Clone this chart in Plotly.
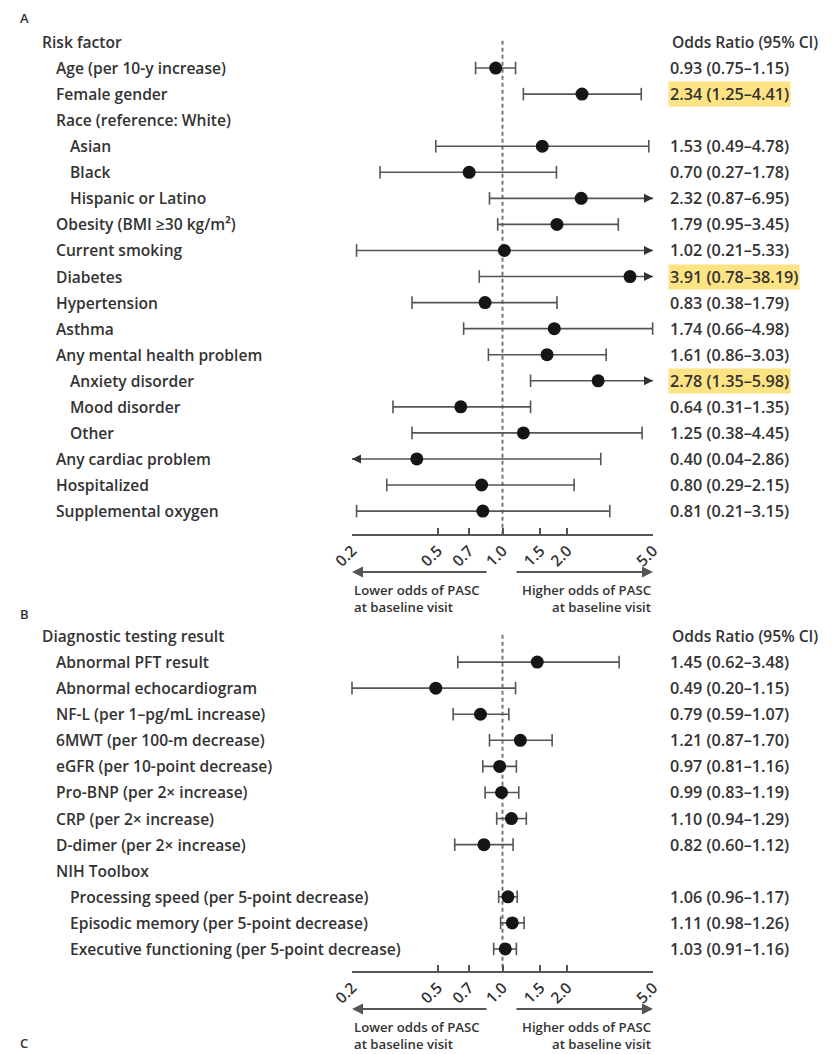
import math
import plotly.graph_objects as go

W, H = 832, 1054

# ---------------- data ----------------
labels_a = ["Risk factor", "Age (per 10-y increase)", "Female gender", "Race (reference: White)",
            "Asian", "Black", "Hispanic or Latino", "Obesity (BMI ≥30 kg/m²)", "Current smoking",
            "Diabetes", "Hypertension", "Asthma", "Any mental health problem", "Anxiety disorder",
            "Mood disorder", "Other", "Any cardiac problem", "Hospitalized", "Supplemental oxygen"]
levels_a = [0, 1, 1, 1, 2, 2, 2, 1, 1, 1, 1, 1, 1, 2, 2, 2, 1, 1, 1]
or_a = [None, 0.93, 2.34, None, 1.53, 0.70, 2.32, 1.79, 1.02, 3.91, 0.83, 1.74, 1.61, 2.78, 0.64, 1.25, 0.40, 0.80, 0.81]
lo_a = [None, 0.75, 1.25, None, 0.49, 0.27, 0.87, 0.95, 0.21, 0.78, 0.38, 0.66, 0.86, 1.35, 0.31, 0.38, 0.04, 0.29, 0.21]
hi_a = [None, 1.15, 4.41, None, 4.78, 1.78, 6.95, 3.45, 5.33, 38.19, 1.79, 4.98, 3.03, 5.98, 1.35, 4.45, 2.86, 2.15, 3.15]
hl_a = [False, False, True, False, False, False, False, False, False, True, False, False, False, True, False, False, False, False, False]

labels_b = ["Diagnostic testing result", "Abnormal PFT result", "Abnormal echocardiogram",
            "NF-L (per 1–pg/mL increase)", "6MWT (per 100-m decrease)", "eGFR (per 10-point decrease)",
            "Pro-BNP (per 2× increase)", "CRP (per 2× increase)", "D-dimer (per 2× increase)", "NIH Toolbox",
            "Processing speed (per 5-point decrease)", "Episodic memory (per 5-point decrease)",
            "Executive functioning (per 5-point decrease)"]
levels_b = [0, 1, 1, 1, 1, 1, 1, 1, 1, 1, 2, 2, 2]
or_b = [None, 1.45, 0.49, 0.79, 1.21, 0.97, 0.99, 1.10, 0.82, None, 1.06, 1.11, 1.03]
lo_b = [None, 0.62, 0.20, 0.59, 0.87, 0.81, 0.83, 0.94, 0.60, None, 0.96, 0.98, 0.91]
hi_b = [None, 3.48, 1.15, 1.07, 1.70, 1.16, 1.19, 1.29, 1.12, None, 1.17, 1.26, 1.16]
hl_b = [False] * 13

tick_vals = [0.2, 0.5, 0.7, 1.0, 1.5, 2.0, 5.0]
tick_text = ["0.2", "0.5", "0.7", "1.0", "1.5", "2.0", "5.0"]
XMIN, XMAX = 0.2, 5.0

# ---------------- style ----------------
FONT = "Open Sans"
TXT = "#333333"
LINE = "#555555"
X0P, X1P = 352, 653
indent = {0: 40, 1: 54, 2: 68}

fig = go.Figure()
annotations = []
shapes = []


def ypaper(px):
    return 1 - px / H


def add_panel(labels, levels, ors, los, his, hls, xa, ya, top_px, row0_px, step, axis_px):
    yr_bottom = (axis_px - row0_px) / step
    yr_top = (top_px - row0_px) / step
    lx, ly = [], []
    capx, capy = [], []
    arx, ary, alx, aly = [], [], [], []
    dx, dy = [], []
    for i, v in enumerate(ors):
        if v is None:
            continue
        lo, hi = los[i], his[i]
        lx += [max(lo, XMIN), min(hi, XMAX), None]
        ly += [i, i, None]
        if lo >= XMIN:
            capx.append(lo); capy.append(i)
        else:
            alx.append(XMIN); aly.append(i)
        if hi <= XMAX:
            capx.append(hi); capy.append(i)
        else:
            arx.append(XMAX); ary.append(i)
        dx.append(v); dy.append(i)
    common = dict(xaxis=xa, yaxis=ya, showlegend=False, hoverinfo="skip", cliponaxis=False)
    fig.add_trace(go.Scatter(x=lx, y=ly, mode="lines", line=dict(color=LINE, width=1.6), **common))
    fig.add_trace(go.Scatter(x=capx, y=capy, mode="markers",
                             marker=dict(symbol="line-ns", size=9, line=dict(color=LINE, width=1.6)), **common))
    if arx:
        fig.add_trace(go.Scatter(x=arx, y=ary, mode="markers",
                                 marker=dict(symbol="arrow-right", size=9, color="#333"), **common))
    if alx:
        fig.add_trace(go.Scatter(x=alx, y=aly, mode="markers",
                                 marker=dict(symbol="arrow-left", size=9, color="#333"), **common))
    fig.add_trace(go.Scatter(x=dx, y=dy, mode="markers",
                             marker=dict(symbol="circle", size=13, color="#151515"), **common))

    axname = "xaxis" if xa == "x" else "xaxis" + xa[1:]
    ayname = "yaxis" if ya == "y" else "yaxis" + ya[1:]
    fig.update_layout(**{
        axname: dict(type="log", range=[math.log10(XMIN), math.log10(XMAX)],
                     domain=[X0P / W, X1P / W], anchor=ya, automargin=False,
                     tickvals=tick_vals, ticktext=tick_text, tickangle=-45,
                     ticks="inside", ticklen=6, tickwidth=1.5, tickcolor=LINE,
                     showline=True, linecolor=LINE, linewidth=1.5, showgrid=False, zeroline=False,
                     tickfont=dict(family=FONT, size=15.5, color=TXT, weight=600), fixedrange=True),
        ayname: dict(range=[yr_bottom, yr_top], domain=[ypaper(axis_px), ypaper(top_px)],
                     anchor=xa, visible=False, fixedrange=True, automargin=False),
    })
    shapes.append(dict(type="line", xref=xa, yref=ya, x0=1, x1=1, y0=-0.05, y1=yr_bottom,
                       line=dict(color="#777", width=2, dash="4px,3px"), layer="below"))
    lf = dict(family=FONT, size=15.6, color=TXT, weight=600)
    vf = dict(family=FONT, size=16.2, color=TXT, weight=600)
    for i, lab in enumerate(labels):
        annotations.append(dict(text=lab, xref="paper", x=indent[levels[i]] / W, yref=ya, y=i,
                                xanchor="left", yanchor="middle", showarrow=False, font=lf))
    annotations.append(dict(text="Odds Ratio (95% CI)", xref="paper", x=670 / W, yref=ya, y=0,
                            xanchor="left", yanchor="middle", showarrow=False, font=lf))
    for i, v in enumerate(ors):
        if v is None:
            continue
        t = f"{v:.2f} ({los[i]:.2f}–{his[i]:.2f})"
        a = dict(text=t, xref="paper", x=668 / W, yref=ya, y=i, xanchor="left", yanchor="middle",
                 showarrow=False, font=vf, borderpad=1)
        if hls[i]:
            a["bgcolor"] = "#fde383"
        annotations.append(a)
    arr_y = axis_px + 38
    annotations.append(dict(text="", xref="paper", yref="paper", x=X0P / W, y=ypaper(arr_y),
                            ax=136, ay=0, showarrow=True, arrowhead=2, arrowsize=1.1, arrowwidth=2,
                            arrowcolor=LINE))
    annotations.append(dict(text="", xref="paper", yref="paper", x=X1P / W, y=ypaper(arr_y),
                            ax=-138, ay=0, showarrow=True, arrowhead=2, arrowsize=1.1, arrowwidth=2,
                            arrowcolor=LINE))
    sf = dict(family=FONT, size=13.2, color=TXT, weight=600)
    annotations.append(dict(text="Lower odds of PASC<br>at baseline visit", xref="paper", yref="paper",
                            x=X0P / W, y=ypaper(arr_y + 7), xanchor="left", yanchor="top", align="left",
                            showarrow=False, font=sf))
    annotations.append(dict(text="Higher odds of PASC<br>at baseline visit", xref="paper", yref="paper",
                            x=X1P / W, y=ypaper(arr_y + 7), xanchor="right", yanchor="top", align="right",
                            showarrow=False, font=sf))


add_panel(labels_a, levels_a, or_a, lo_a, hi_a, hl_a, "x", "y", 28, 42, 26.06, 534)
add_panel(labels_b, levels_b, or_b, lo_b, hi_b, hl_b, "x2", "y2", 624, 636, 26.08, 971)

for lab, ypx, ya in [("A", 18, "middle"), ("B", 614, "middle"), ("C", 1054, "bottom")]:
    annotations.append(dict(text=lab, xref="paper", yref="paper", x=18 / W, y=ypaper(ypx),
                            xanchor="left", yanchor=ya, showarrow=False,
                            font=dict(family=FONT, size=13, color=TXT, weight=600)))

fig.update_layout(template="none", width=W, height=H, margin=dict(l=0, r=0, t=0, b=0, autoexpand=False),
                  paper_bgcolor="white", plot_bgcolor="white",
                  annotations=annotations, shapes=shapes)

fig.write_html("out.html")
